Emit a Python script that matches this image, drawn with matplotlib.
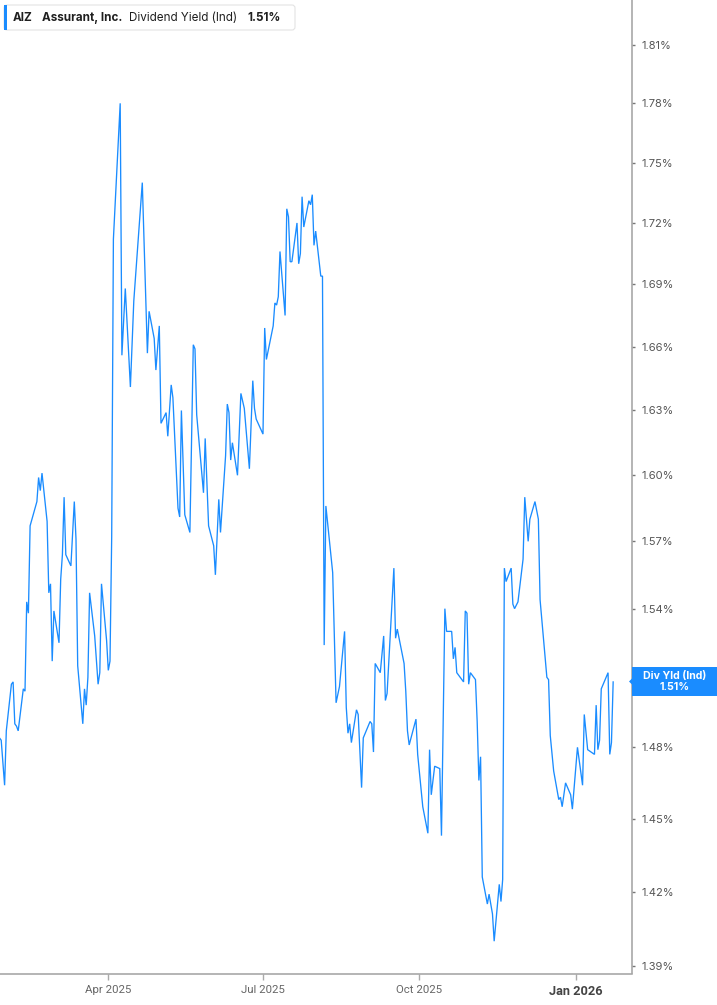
import numpy as np
import pandas as pd
import matplotlib
matplotlib.use("Agg")
import matplotlib.pyplot as plt
import matplotlib.dates as mdates
import matplotlib.ticker as mticker
from matplotlib.patches import FancyBboxPatch, Rectangle, Polygon
from matplotlib.transforms import IdentityTransform

# AIZ dividend yield (indicated)
dates = [
    "2025-01-27", "2025-01-28", "2025-01-30", "2025-01-31", "2025-02-03", "2025-02-04",
    "2025-02-05", "2025-02-06", "2025-02-07", "2025-02-10", "2025-02-11", "2025-02-12",
    "2025-02-13", "2025-02-14", "2025-02-18", "2025-02-19", "2025-02-20", "2025-02-21",
    "2025-02-24", "2025-02-25", "2025-02-26", "2025-02-27", "2025-02-28", "2025-03-03",
    "2025-03-04", "2025-03-05", "2025-03-06", "2025-03-07", "2025-03-10", "2025-03-12",
    "2025-03-13", "2025-03-14", "2025-03-17", "2025-03-18", "2025-03-19", "2025-03-20",
    "2025-03-21", "2025-03-24", "2025-03-26", "2025-03-27", "2025-03-28", "2025-03-31",
    "2025-04-01", "2025-04-02", "2025-04-03", "2025-04-04", "2025-04-08", "2025-04-09",
    "2025-04-11", "2025-04-14", "2025-04-16", "2025-04-21", "2025-04-24", "2025-04-25",
    "2025-04-28", "2025-04-29", "2025-05-01", "2025-05-02", "2025-05-05", "2025-05-06",
    "2025-05-08", "2025-05-09", "2025-05-12", "2025-05-13", "2025-05-14", "2025-05-16",
    "2025-05-19", "2025-05-21", "2025-05-22", "2025-05-23", "2025-05-27", "2025-05-28",
    "2025-05-30", "2025-06-02", "2025-06-03", "2025-06-05", "2025-06-06", "2025-06-09",
    "2025-06-10", "2025-06-11", "2025-06-12", "2025-06-13", "2025-06-16", "2025-06-18",
    "2025-06-20", "2025-06-23", "2025-06-25", "2025-06-26", "2025-06-27", "2025-07-01",
    "2025-07-02", "2025-07-03", "2025-07-07", "2025-07-08", "2025-07-09", "2025-07-10",
    "2025-07-11", "2025-07-14", "2025-07-15", "2025-07-16", "2025-07-17", "2025-07-18",
    "2025-07-21", "2025-07-22", "2025-07-23", "2025-07-24", "2025-07-25", "2025-07-28",
    "2025-07-29", "2025-07-30", "2025-07-31", "2025-08-01", "2025-08-04", "2025-08-05",
    "2025-08-06", "2025-08-07", "2025-08-11", "2025-08-13", "2025-08-15", "2025-08-18",
    "2025-08-19", "2025-08-20", "2025-08-21", "2025-08-22", "2025-08-25", "2025-08-26",
    "2025-08-28", "2025-08-29", "2025-09-02", "2025-09-03", "2025-09-04", "2025-09-05",
    "2025-09-08", "2025-09-10", "2025-09-11", "2025-09-12", "2025-09-16", "2025-09-17",
    "2025-09-18", "2025-09-22", "2025-09-23", "2025-09-24", "2025-09-25", "2025-09-29",
    "2025-09-30", "2025-10-03", "2025-10-06", "2025-10-07", "2025-10-08", "2025-10-10",
    "2025-10-13", "2025-10-14", "2025-10-16", "2025-10-17", "2025-10-20", "2025-10-21",
    "2025-10-22", "2025-10-23", "2025-10-27", "2025-10-28", "2025-10-29", "2025-10-30",
    "2025-10-31", "2025-11-03", "2025-11-04", "2025-11-05", "2025-11-06", "2025-11-07",
    "2025-11-10", "2025-11-11", "2025-11-13", "2025-11-14", "2025-11-17", "2025-11-18",
    "2025-11-19", "2025-11-20", "2025-11-21", "2025-11-24", "2025-11-25", "2025-11-26",
    "2025-11-28", "2025-12-01", "2025-12-02", "2025-12-04", "2025-12-05", "2025-12-08",
    "2025-12-10", "2025-12-11", "2025-12-15", "2025-12-16", "2025-12-17", "2025-12-19",
    "2025-12-22", "2025-12-23", "2025-12-24", "2025-12-26", "2025-12-29", "2025-12-30",
    "2026-01-02", "2026-01-05", "2026-01-06", "2026-01-08", "2026-01-12", "2026-01-13",
    "2026-01-14", "2026-01-15", "2026-01-16", "2026-01-20", "2026-01-21", "2026-01-22",
    "2026-01-23",
]
div_yield = [
    1.484, 1.483, 1.464, 1.487, 1.507, 1.508,
    1.490, 1.489, 1.487, 1.505, 1.504, 1.543,
    1.538, 1.577, 1.588, 1.599, 1.593, 1.601,
    1.579, 1.547, 1.551, 1.517, 1.539, 1.525,
    1.553, 1.564, 1.590, 1.564, 1.559, 1.588,
    1.571, 1.515, 1.490, 1.505, 1.498, 1.510,
    1.547, 1.528, 1.507, 1.512, 1.551, 1.526,
    1.513, 1.517, 1.572, 1.712, 1.780, 1.656,
    1.688, 1.641, 1.682, 1.740, 1.657, 1.677,
    1.664, 1.649, 1.670, 1.624, 1.629, 1.618,
    1.642, 1.636, 1.585, 1.581, 1.630, 1.582,
    1.574, 1.661, 1.659, 1.628, 1.592, 1.617,
    1.577, 1.568, 1.555, 1.589, 1.574, 1.609,
    1.633, 1.629, 1.607, 1.615, 1.600, 1.638,
    1.631, 1.603, 1.644, 1.631, 1.626, 1.619,
    1.669, 1.654, 1.670, 1.681, 1.680, 1.684,
    1.706, 1.675, 1.727, 1.723, 1.701, 1.701,
    1.720, 1.700, 1.705, 1.733, 1.718, 1.731,
    1.729, 1.734, 1.709, 1.716, 1.694, 1.694,
    1.524, 1.586, 1.556, 1.499, 1.506, 1.530,
    1.497, 1.486, 1.490, 1.482, 1.496, 1.494,
    1.463, 1.484, 1.491, 1.490, 1.478, 1.516,
    1.512, 1.528, 1.500, 1.503, 1.558, 1.527,
    1.531, 1.516, 1.504, 1.487, 1.481, 1.492,
    1.477, 1.455, 1.444, 1.479, 1.460, 1.472,
    1.471, 1.443, 1.540, 1.530, 1.530, 1.518,
    1.523, 1.512, 1.508, 1.539, 1.538, 1.507,
    1.512, 1.509, 1.491, 1.466, 1.476, 1.426,
    1.415, 1.419, 1.411, 1.400, 1.423, 1.416,
    1.425, 1.558, 1.552, 1.558, 1.542, 1.540,
    1.543, 1.562, 1.590, 1.570, 1.580, 1.588,
    1.580, 1.544, 1.510, 1.509, 1.485, 1.470,
    1.458, 1.459, 1.455, 1.465, 1.460, 1.454,
    1.480, 1.464, 1.494, 1.479, 1.477, 1.498,
    1.479, 1.483, 1.505, 1.512, 1.477, 1.482,
    1.508,
]

# the 1.51% tick sits under the last-value flag, so it is left out
ytick_vals = [1.39, 1.42, 1.45, 1.48, 1.54, 1.57, 1.60, 1.63, 1.66, 1.69, 1.72, 1.75, 1.78, 1.81]
xtick_dates = ["2025-04-01", "2025-07-01", "2025-10-01", "2026-01-01"]
xtick_labels = ["Apr 2025", "Jul 2025", "Oct 2025", "Jan 2026"]

ticker_sym = "AIZ"
company = "Assurant, Inc."
metric = "Dividend Yield (Ind)"
flag_name = "Div Yld (Ind)"
last_val = div_yield[-1]

BLUE = "#1a8cff"
W, H = 717, 1005

plt.rcParams["font.family"] = ["Inter", "DejaVu Sans"]

fig = plt.figure(figsize=(W / 100, H / 100), dpi=100)
ax = fig.add_axes([0, 1 - 973.5 / H, 632 / W, 973.5 / H])

x = pd.to_datetime(dates)
ax.plot(x, div_yield, color=BLUE, lw=0.95, solid_joinstyle="miter")

ax.set_yscale("log")
ax.set_ylim(1.3871, 1.8335)
ax.set_xlim(pd.Timestamp("2025-01-27 07:00"), pd.Timestamp("2026-02-03 02:00"))

ax.yaxis.set_major_locator(mticker.FixedLocator(ytick_vals))
ax.yaxis.set_major_formatter(mticker.FixedFormatter([f"{v:.2f}%" for v in ytick_vals]))
ax.yaxis.set_minor_locator(mticker.NullLocator())
ax.yaxis.tick_right()
ax.tick_params(axis="y", which="major", length=2.5, width=1.0, color="#777777",
               labelsize=8, labelcolor="#555555", pad=4)

ax.set_xticks(pd.to_datetime(xtick_dates))
ax.set_xticklabels(xtick_labels)
ax.tick_params(axis="x", length=4, width=1.0, color="#aaaaaa", pad=4)
for lbl in ax.get_xticklabels():
    lbl.set_family(["Roboto", "DejaVu Sans"])
    lbl.set_fontsize(8.2)
    lbl.set_color("#666666")
jan = ax.get_xticklabels()[-1]
jan.set_fontweight("bold")
jan.set_fontsize(9.2)
jan.set_color("#444444")

for side in ["left", "top"]:
    ax.spines[side].set_visible(False)
for side in ["right", "bottom"]:
    ax.spines[side].set_color("#a0a0a0")
    ax.spines[side].set_linewidth(1.1)

# header box (pixel coordinates from bottom-left)
px = IdentityTransform()
hdr = FancyBboxPatch((4, H - 30), 291, 25, boxstyle="round,pad=0,rounding_size=3",
                     transform=px, facecolor="white", edgecolor="#e3e3e3", lw=0.8)
fig.patches.append(hdr)
fig.patches.append(Rectangle((4, H - 30), 3, 25, transform=px, facecolor=BLUE, edgecolor="none"))
ty = H - 17.5
fig.text(13, ty, ticker_sym, transform=px, fontsize=8.4, fontweight="bold", color="#1f1f1f", va="center")
fig.text(42, ty, company, transform=px, fontsize=8.4, fontweight="bold", color="#1f1f1f", va="center")
fig.text(129, ty, metric, transform=px, fontsize=8.4, color="#1f1f1f", va="center")
fig.text(247, ty, f"{last_val:.2f}%", transform=px, fontsize=8.4, fontweight="bold", color="#1f1f1f", va="center")

# last value flag on the right axis
fig.patches.append(Rectangle((632, H - 696), 85, 29, transform=px, facecolor=BLUE, edgecolor="none"))
fig.patches.append(Polygon([(629, H - 681.5), (632.5, H - 678), (632.5, H - 685)], closed=True,
                           transform=px, facecolor=BLUE, edgecolor="none"))
fig.text(674.5, H - 681.5, f"{flag_name}\n{last_val:.2f}%", transform=px, fontsize=7.6,
         fontweight="bold", color="white", ha="center", va="center", multialignment="center",
         linespacing=1.05)

fig.savefig("out.png", dpi=100, facecolor="white")
